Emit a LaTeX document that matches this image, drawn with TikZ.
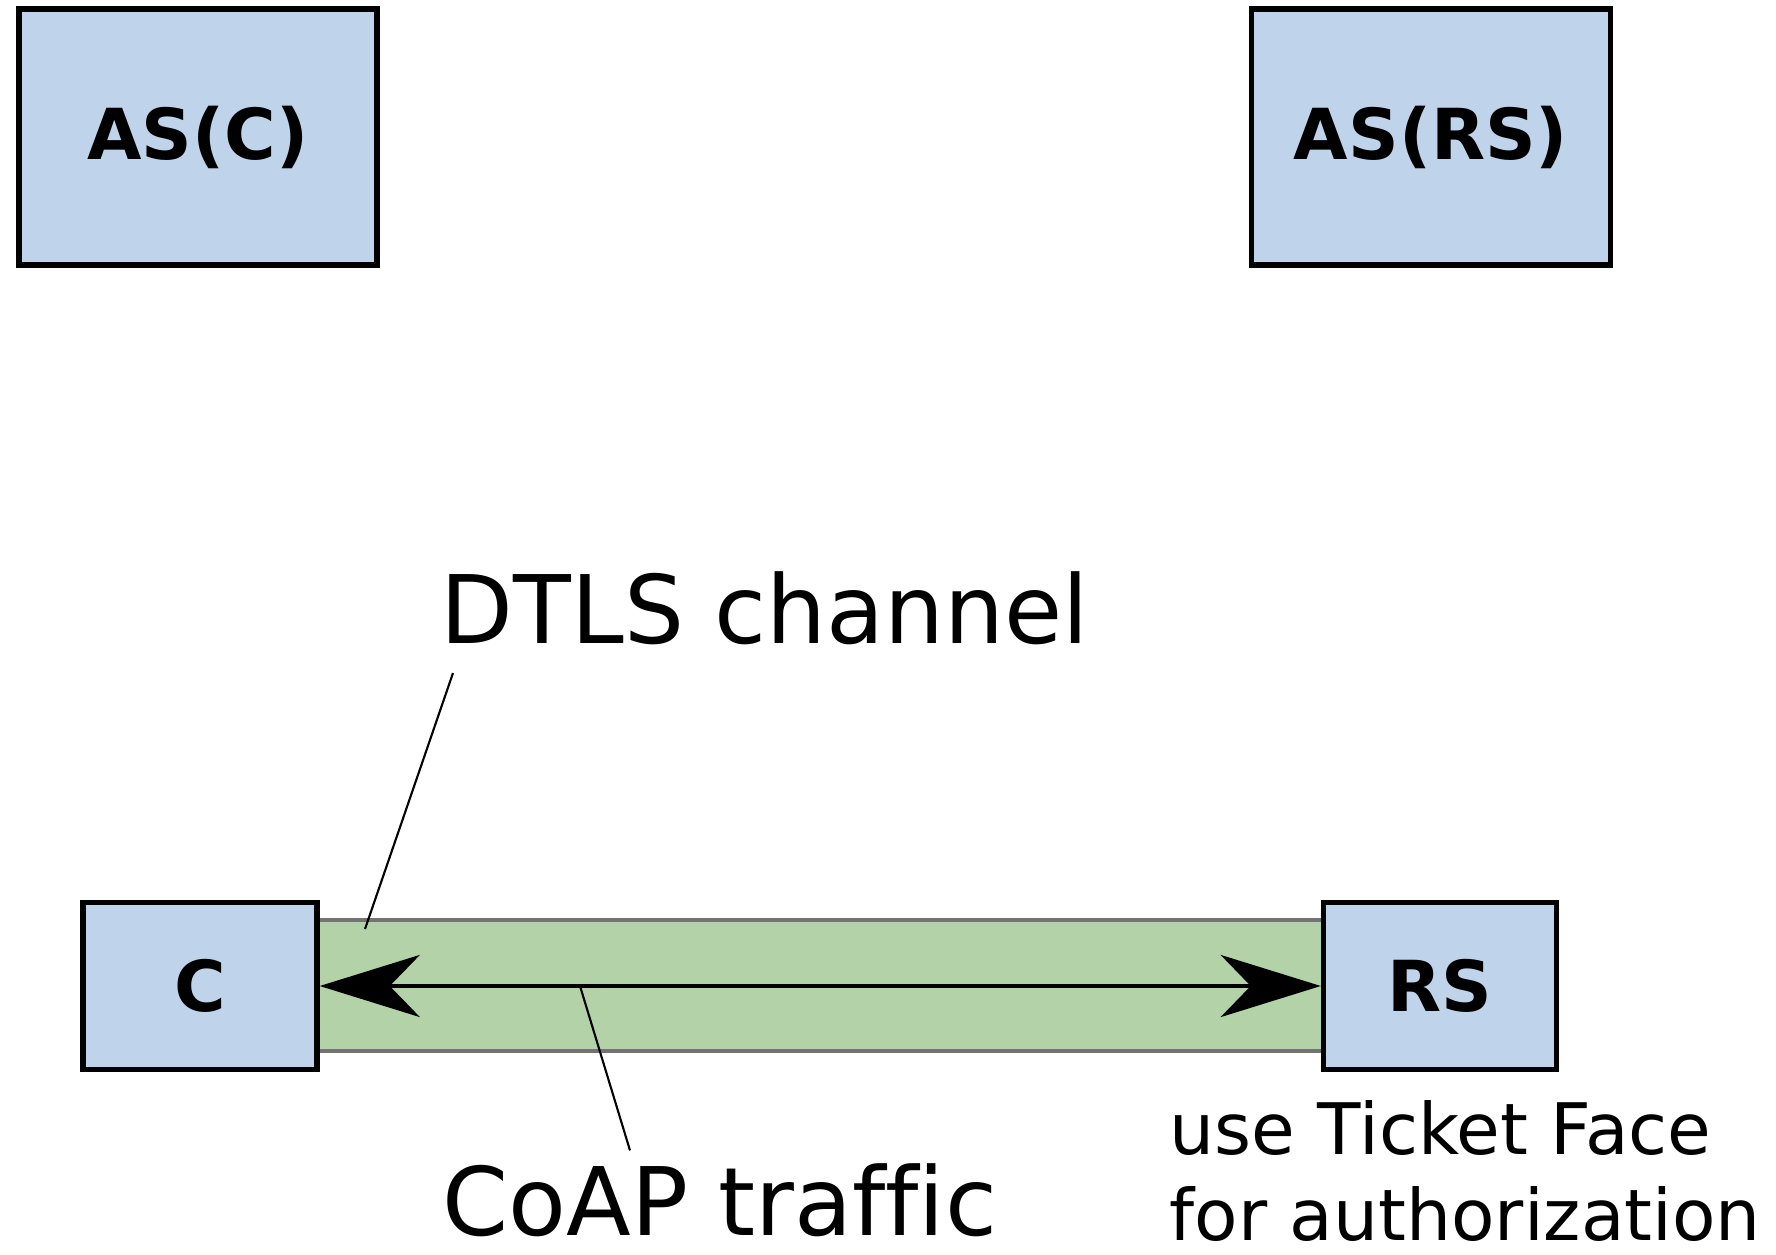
\documentclass[tikz,border=0pt]{standalone}
\usepackage{fontspec}
\setmainfont[Ligatures=NoCommon]{DejaVu Sans}
\usetikzlibrary{arrows.meta}

\definecolor{boxblue}{RGB}{191,212,234}
\definecolor{chgreen}{RGB}{179,210,168}

\tikzset{
	party/.style={draw, line width=1.5pt, fill=boxblue, inner sep=0pt,
		font=\bfseries\fontsize{20pt}{24pt}\selectfont},
	bigtext/.style={inner sep=0pt, font=\fontsize{26.9pt}{32pt}\selectfont},
	note/.style={inner sep=0pt, align=left, font=\fontsize{20.2pt}{24.5pt}\selectfont},
	leader/.style={line width=0.6pt},
	flow/.style={{Stealth[length=1cm,width=0.62cm,inset=0.3cm]}-{Stealth[length=1cm,width=0.62cm,inset=0.3cm]}, line width=1.3pt},
}

\begin{document}
\begin{tikzpicture}[x=0.01cm, y=-0.01cm]

\useasboundingbox (0,0) rectangle (1776,1255);

% the channel, boxes come on top of its ends
\coordinate (bandnw) at (317,920);
\coordinate (bandse) at (1323,1051);
\filldraw [fill=chgreen, draw=black!55, line width=1pt] (bandnw) rectangle (bandse);

\node [party, minimum width=3.58cm, minimum height=2.56cm] (asc) at (198,137) {AS(C)};
\node [party, minimum width=3.59cm, minimum height=2.56cm] (asrs) at (1431,137) {AS(RS)};

\node [party, minimum width=2.34cm, minimum height=1.67cm] (c) at (200,986) {C};
\node [party, minimum width=2.33cm, minimum height=1.67cm] (rs) at (1440,986) {RS};

\draw [flow] (c) -- (rs);

\node [bigtext, anchor=base west] (dtls) at (440,643) {DTLS channel};
\coordinate (dtlsfoot) at (365,929);
\draw [leader] ([shift={(13,28)}]dtls.south west) -- (dtlsfoot);

\node [bigtext, anchor=base west] (coap) at (442,1235) {CoAP traffic};
\coordinate (coapfoot) at (580,986);
\draw [leader] (coapfoot) -- ([shift={(188,-12)}]coap.north west);

\node [note, anchor=north west] (ticket) at (1169,1100) {use Ticket Face\\for authorization};

\end{tikzpicture}
\end{document}
